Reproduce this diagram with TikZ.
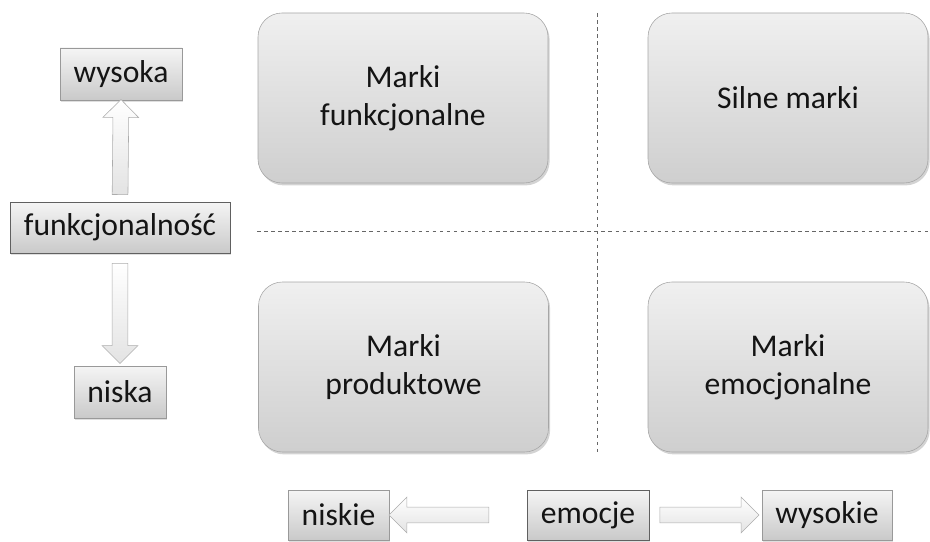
\documentclass[tikz,border=0pt]{standalone}
\usepackage{fontspec}
\setmainfont{Carlito}
\usetikzlibrary{shapes,arrows,positioning,calc,shadows}

\begin{document}
\begin{tikzpicture}[
    every node/.style={font=\fontsize{22.5}{27}\selectfont, text=black!92},
    marka/.style={draw=gray!70, rounded corners=0.6cm, top color=gray!12, bottom color=gray!38,
        minimum width=7.25cm, minimum height=4.25cm, align=center,
        drop shadow={opacity=0.35, shadow xshift=0.04cm, shadow yshift=-0.06cm}},
    pole/.style={draw=gray!75!black, top color=gray!8, bottom color=gray!42, minimum height=1.3cm, inner sep=0pt,
        drop shadow={opacity=0.25, shadow xshift=0.03cm, shadow yshift=-0.04cm}},
    strzalka/.style={single arrow, draw=gray!65, top color=white, bottom color=gray!22,
        inner xsep=0pt, inner ysep=0.19cm, text height=0pt, text depth=0pt,
        single arrow head extend=0.25cm, sloped, allow upside down},
    os/.style={gray!80!black, dash pattern=on 2.5pt off 2.5pt, thin}
]
    \useasboundingbox (0,0) rectangle (23.25,13.525);

    % axes of the matrix
    \draw[os] (14.925,13.2) -- (14.925,2.225);
    \draw[os] (6.425,7.75) -- (23.25,7.75);

    % four kinds of brands
    \node[marka] (funkc) at (10.075,11.075) {Marki\\funkcjonalne};
    \node[marka, minimum width=7cm] (silne) at (19.7,11.075) {Silne marki};
    \node[marka] (prod) at (10.0875,4.35) {Marki\\produktowe};
    \node[marka, minimum width=7cm] (emoc) at (19.7,4.35) {Marki\\emocjonalne};

    % vertical axis
    \node[pole, minimum width=3.05cm, draw=gray!80] (wysoka) at (3.025,11.675) {wysoka};
    \node[pole, minimum width=5.5cm, minimum height=1.275cm] (funk) at (3.0,7.8375) {funkcjonalność};
    \node[pole, minimum width=2.3cm, draw=gray!80] (niska) at (3.0,3.725) {niska};
    \path (funk.north) -- (wysoka.south) node[strzalka, midway, minimum height=2.375cm] {};
    \path (funk.south) -- (niska.north) node[strzalka, midway, minimum height=2.5cm] {};

    % horizontal axis
    \node[pole, minimum width=2.525cm, minimum height=1.25cm, draw=gray!80] (niskie) at (8.4625,0.65) {niskie};
    \node[pole, minimum width=3.05cm, minimum height=1.25cm] (emocje) at (14.7,0.65) {emocje};
    \node[pole, minimum width=3.25cm, minimum height=1.25cm, draw=gray!80] (wysokie) at (20.675,0.65) {wysokie};
    \path (emocje.west) -- (niskie.east) node[strzalka, pos=0.61, minimum height=2.5cm] {};
    \path (emocje.east) -- (wysokie.west) node[strzalka, midway, minimum height=2.475cm] {};
\end{tikzpicture}
\end{document}
